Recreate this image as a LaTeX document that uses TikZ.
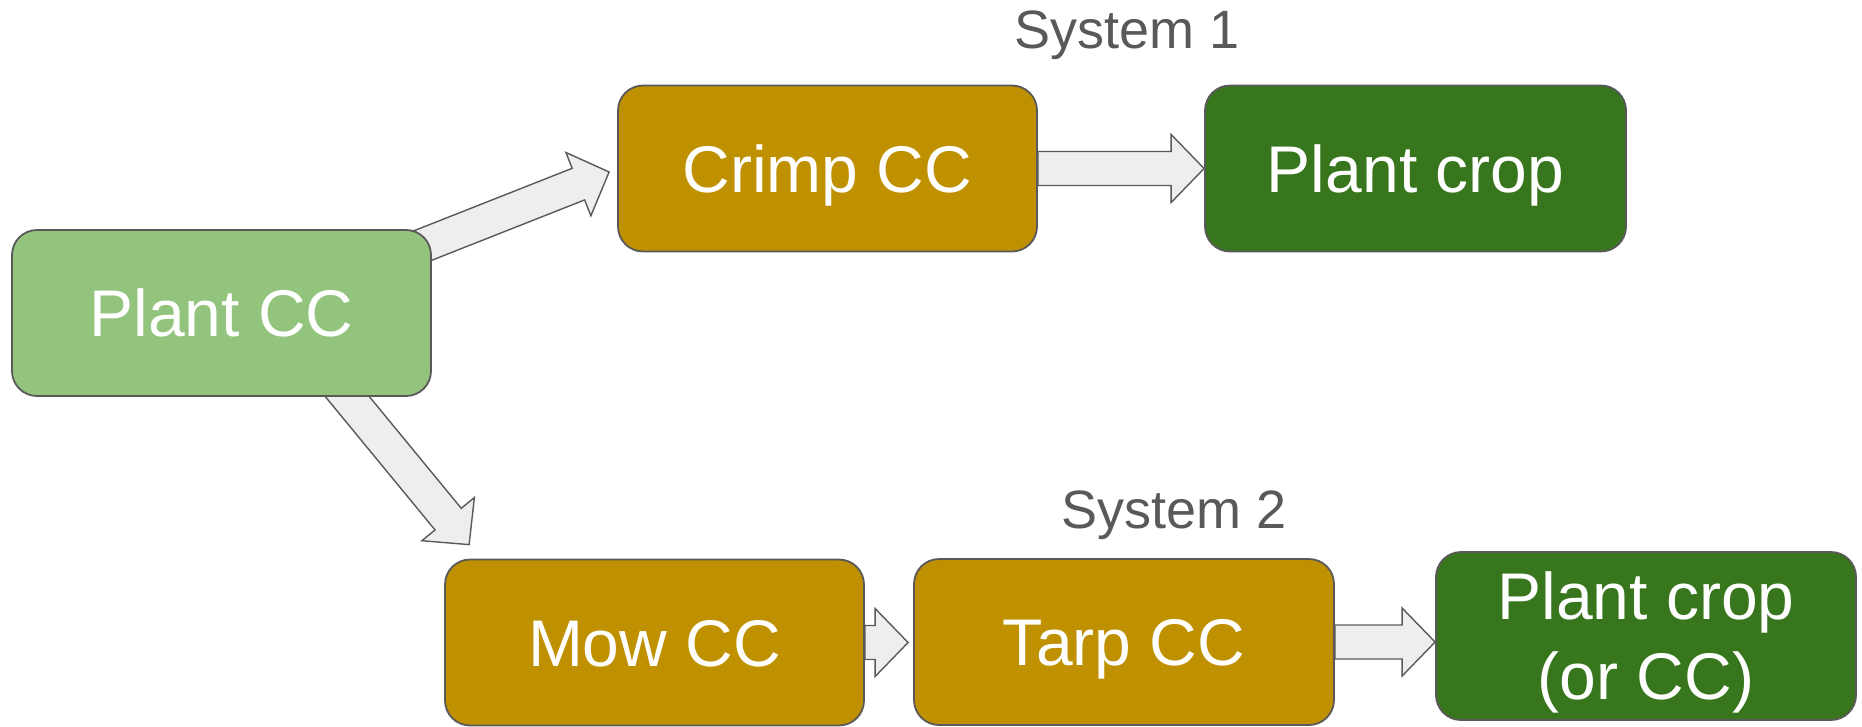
\documentclass[tikz,border=0pt]{standalone}
\usepackage{fontspec}
\setmainfont{Liberation Sans}
\usetikzlibrary{calc,backgrounds}
\definecolor{sowgreen}{HTML}{93C47D}
\definecolor{killgold}{HTML}{BF9000}
\definecolor{cropgreen}{HTML}{38761D}
\definecolor{edgegray}{HTML}{595959}
\definecolor{flowgray}{HTML}{EEEEEE}

\begin{document}
\begin{tikzpicture}[x=1pt,y=-1pt,
    stage/.style={draw=edgegray,line width=1.8pt,rounded corners=25pt,inner sep=0pt,
      minimum width=419pt,minimum height=166pt,text=white,align=center,
      font=\fontsize{66}{80}\selectfont,text height=47pt,text depth=0pt},
    sysname/.style={inner sep=0pt,text=edgegray,font=\fontsize{54}{66}\selectfont,
      text height=39pt,text depth=0pt},
    flow/.style={draw=edgegray,fill=flowgray,line width=1.4pt,line join=miter,
      to path={($(\tikztotarget)!33pt!(\tikztostart)$) coordinate (headbase)
        ($(\tikztostart)!17pt!90:(\tikztotarget)$)
        -- ($(headbase)!17pt!-90:(\tikztostart)$) -- ($(headbase)!34pt!-90:(\tikztostart)$)
        -- (\tikztotarget)
        -- ($(headbase)!34pt!90:(\tikztostart)$) -- ($(headbase)!17pt!90:(\tikztostart)$)
        -- ($(\tikztostart)!17pt!-90:(\tikztotarget)$) -- cycle}}]
  \useasboundingbox (0,0) rectangle (1862,726);

  % stages
  \node[stage,fill=sowgreen](plantcc) at (221.5,313){Plant CC};
  \node[stage,fill=killgold](crimp) at (827.5,168.5){Crimp CC};
  \node[stage,fill=cropgreen,minimum width=421pt](crop1) at (1415.5,168.5){Plant crop};
  \node[stage,fill=killgold](mow) at (654.5,642.5){Mow CC};
  \node[stage,fill=killgold,minimum width=420pt](tarp) at (1124,642){Tarp CC};
  \node[stage,fill=cropgreen,minimum width=420pt,minimum height=168pt,text height=127pt](crop2) at (1646,636){Plant crop\\(or CC)};

  \node[sysname](sys1) at (1127,29){System 1};
  \node[sysname](sys2) at (1174,509){System 2};

  % arrows behind the boxes
  \coordinate (uptail) at ($(plantcc.center)+(0,12)$);
  \coordinate (uptip) at ($(crimp.west)+(-8,3.5)$);
  \coordinate (downtail) at ($(plantcc.center)+(87.5,37)$);
  \coordinate (downtip) at ($(mow.north west)+(25,-14)$);
  \coordinate (mowtip) at ($(mow.east -| tarp.west)+(-5,0)$);
  \begin{pgfonlayer}{background}
    \draw[flow] (uptail) to (uptip);
    \draw[flow] (crimp.east) to (crop1.west);
    \draw[flow] (downtail) to (downtip);
    \draw[flow] (mow.east) to (mowtip);
    \draw[flow] (tarp.east) to (tarp.east -| crop2.west);
  \end{pgfonlayer}
\end{tikzpicture}
\end{document}
